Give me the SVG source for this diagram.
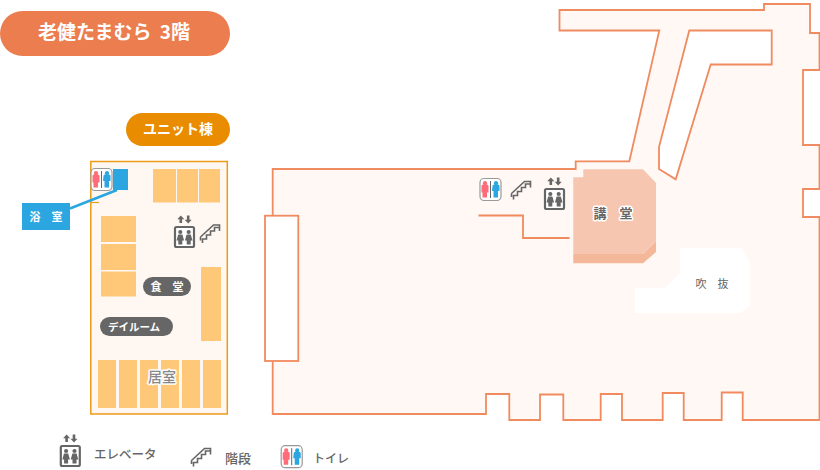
<svg xmlns="http://www.w3.org/2000/svg" width="820" height="470" viewBox="0 0 820 470">
<style>
.t{font-family:"Noto Sans CJK JP","Noto Sans",sans-serif}
.wall{fill:#fff8f5;stroke:#f08a5f;stroke-width:1.8}
.hole{fill:#fff;stroke:#f08a5f;stroke-width:1.8}
.room{fill:#ffc878}
.pill{fill:#666}
.w{fill:#fff;font-size:11px;font-weight:700}
.g{fill:#666;font-weight:500}
.halo{paint-order:stroke;stroke:#fff;stroke-width:3px;stroke-linejoin:round}
.ic{fill:#666}
.ln{fill:none;stroke:#666;stroke-width:1.6}
</style>
<defs>
<g id="ev">
<path class="ic" d="M-3.700 -10.500l-3.500 3.800h2.200v3.700h2.600v-3.700h2.200zM3.700 -2.500l3.500 -3.800h-2.200v-4.200h-2.600v4.200h-2.200z"/>
<rect x="-9.500" y="1" width="19" height="20" rx="1.500" fill="#fff" stroke="#666" stroke-width="2.200"/>
<circle class="ic" cx="-4.200" cy="6" r="2.100"/><circle class="ic" cx="4.200" cy="6" r="2.100"/>
<path class="ic" d="M-8 14.500l1.700-6h4.200l1.700 6h-1.800v4h-4v-4zM0.400 14.500l1.700-6h4.200l1.700 6h-1.800v4h-4v-4z"/>
</g>
<g id="st"><path class="ln" d="M-9.500 3.500L3.500-8.500H9.500V-2.500M-7.500 9.500V5.500H-3.500V1.500H0.500V-2.500H4.500V-6H9.500M-9.500 3.500V7"/></g>
<g id="wc">
<rect x="-10.500" y="-11" width="21" height="22" rx="4" fill="#fff" stroke="#999" stroke-width="1.200"/>
<path d="M0-8.500v17" stroke="#666" stroke-width="1"/>
<circle cx="-5.500" cy="-6.300" r="2.100" fill="#ff6b78"/>
<path d="M-9 3v-6.500q0-1.500 1.500-1.500h4q1.500 0 1.500 1.500v6.500h-1.500v5h-4.500v-5z" fill="#ff6b78"/>
<circle cx="5.500" cy="-6.300" r="2.100" fill="#2ba6e0"/>
<path d="M2-3.500q0-1.500 1.500-1.500h4q1.500 0 1.500 1.500v5h-1.500v6.500h-4.500v-6.500h-1.500z" fill="#2ba6e0"/>
</g>
</defs>

<g id="title"><rect x="0" y="11" width="230" height="45" rx="22.500" fill="#ec7d4e"/><text class="t" x="38" y="39" font-size="19" font-weight="700" fill="#fff" word-spacing="4">老健たまむら 3階</text></g>
<g id="unit-label"><rect x="126" y="113" width="104" height="33" rx="16.500" fill="#e98c00"/><text class="t" x="178" y="134" text-anchor="middle" font-size="14" font-weight="700" fill="#fff">ユニット棟</text></g>

<g id="unit">
<rect x="90.800" y="161.500" width="136.500" height="252.500" fill="#fff8f2" stroke="#ee9a1a" stroke-width="1.500"/>
<path d="M91 202.500h8" stroke="#ee9a1a" stroke-width="1.200"/>
<path class="room" d="M153 169h23v33.500h-23zM177 169h21v33.500h-21zM199 169h21v33.500h-21zM101 216h35v26h-35zM101 244h35v26h-35zM101 271.500h35v25h-35zM201 267h20v74h-20zM98 360h18v48h-18zM119 360h18v48h-18zM140 360h18v48h-18zM161 360h18v48h-18zM182 360h18v48h-18zM203 360h18v48h-18z"/>
</g>
<g id="bath"><rect x="113" y="169" width="15" height="21" fill="#2ba6e0"/><rect x="22" y="203" width="48" height="27" fill="#2ba6e0"/><text class="t w" x="46" y="221" text-anchor="middle" xml:space="preserve">浴　室</text></g>
<g id="connectors"><path d="M70 208.500L117 190" stroke="#2ba6e0" stroke-width="2.500" fill="none"/></g>
<g id="unit-wc"><use href="#wc" x="101.500" y="179.500"/></g>
<g id="unit-ev"><use href="#ev" x="184.500" y="226"/></g>
<g id="unit-st"><use href="#st" x="210" y="233.500"/></g>
<g id="dining"><rect x="143" y="277" width="48" height="19" rx="9.500" class="pill"/><text class="t w" x="167" y="290.500" text-anchor="middle" xml:space="preserve">食　堂</text></g>
<g id="dayroom"><rect x="100" y="317" width="73" height="19" rx="9.500" class="pill"/><text class="t w" x="134" y="330.500" text-anchor="middle" style="font-size:10.500px">デイルーム</text></g>
<g id="living"><text class="t halo" x="162" y="382" text-anchor="middle" font-size="14" font-weight="500" fill="#888">居室</text></g>

<g id="main">
<path class="wall" d="M559.500 10H764V4H810V33H819.500V70H803V145H819.500V189H803V217H819.500V420H742.700V392.500H721.700V420H683.700V393H662.700V420H622V394H600.700V420H563.300V394.500H540V420H509.300V394H486V414H272.700V169H575.700V161.300H629.300L659.300 30.500H559.500Z"/>
<path class="hole" d="M689.300 30.500H771.700V64.500H710.700L675.700 179.300L659 169V147Z"/>
<rect class="hole" x="265" y="215.700" width="33.300" height="145.300" stroke-width="2"/>
<path d="M478.500 215.500H523V238H569.500" fill="none" stroke="#f08a5f" stroke-width="1.800"/>
</g>
<g id="atrium"><path fill="#fff" d="M680 248H741L750 262V305L741 313H635V288H665L680 273Z"/><text class="t" x="712" y="288" text-anchor="middle" font-size="11" fill="#666" xml:space="preserve">吹　抜</text></g>
<g id="hall">
<path d="M573.300 254H643L656 241V252L643 263.300H573.300Z" fill="#f4b79a"/>
<path d="M573.300 177.300H583.300V169.300H643L656 183V241L643 254H573.300Z" fill="#f6c6b0"/>
<text class="t halo" x="613" y="218" text-anchor="middle" font-size="13" font-weight="700" fill="#666" xml:space="preserve">講　堂</text>
</g>
<g id="main-wc"><use href="#wc" x="490.500" y="189.500"/></g>
<g id="main-st"><use href="#st" x="521" y="190"/></g>
<g id="main-ev"><use href="#ev" x="554.500" y="188"/></g>

<g id="legend">
<use href="#ev" x="70.300" y="445"/>
<text class="t g" x="94" y="458.500" font-size="12.500">エレベータ</text>
<use href="#st" x="201" y="457"/>
<text class="t g" x="225" y="462.500" font-size="13">階段</text>
<use href="#wc" x="291.700" y="456.700"/>
<text class="t g" x="313" y="462.500" font-size="12">トイレ</text>
</g>
</svg>
